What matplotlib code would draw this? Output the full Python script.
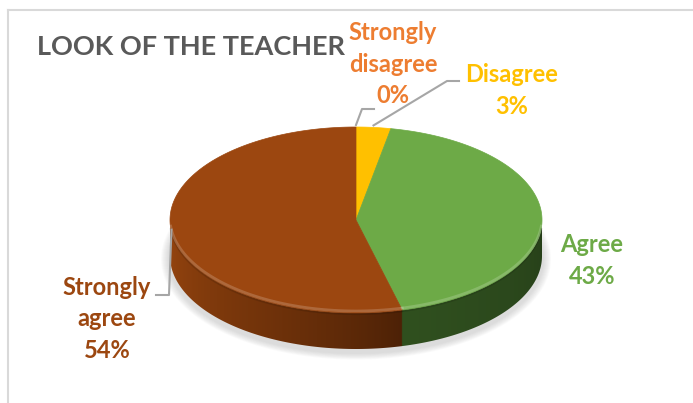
import numpy as np
import matplotlib
matplotlib.use("Agg")
import matplotlib.pyplot as plt
from matplotlib.colors import to_rgb
from matplotlib.patches import Polygon

plt.rcParams['font.family'] = ['Lato', 'DejaVu Sans']

# data
title = "LOOK OF THE TEACHER"
names = ["Strongly\ndisagree", "Disagree", "Agree", "Strongly\nagree"]
values = [0, 3, 43, 54]
top_colors = ["#ED7D31", "#FFC000", "#6DAA47", "#9C4710"]
text_colors = ["#ED7D31", "#FFC000", "#6DAA47", "#9C4710"]
side_dark = ["#8A4516", "#A07800", "#263F19", "#4C2106"]
side_light = ["#B35A1F", "#C99700", "#30501F", "#97450F"]

# layout (pixels)
cx, cy, a, b, depth = 356, 220, 186, 93, 36
label_pos = [(393, 40), (512, 82), (592, 252), (107, 295)]
elbows = [[(362, 109), (374, 109)], [(447, 81), (459, 81)], None, [(169, 295), (156, 295)]]

fig = plt.figure(figsize=(6.93, 4.03), dpi=100)
ax = fig.add_axes([0, 0, 1, 1])
ax.set_xlim(0, 693)
ax.set_ylim(403, 0)
ax.axis("off")

# chart frame
ax.plot([8, 8], [10, 403], color="#D9D9D9", lw=1.5)
ax.plot([8, 693], [10, 10], color="#D9D9D9", lw=1.5)


def pt(theta, dy=0.0):
    t = np.radians(theta)
    return cx + a * np.sin(t), cy - b * np.cos(t) + dy


def mix(c1, c2, t):
    c1, c2 = np.array(to_rgb(c1)), np.array(to_rgb(c2))
    return c1 + (c2 - c1) * t


# soft shadow
for k in range(8):
    th = np.linspace(0, 360, 200)
    xs = cx + (a + 2 + k) * np.sin(np.radians(th))
    ys = cy + depth + 3 - (b + 2 + k * 0.8) * np.cos(np.radians(th))
    ax.fill(xs, ys, color="#808080", alpha=0.035, lw=0, zorder=1)

total = float(sum(values))
bounds = np.concatenate([[0], np.cumsum(values)]) / total * 360.0

# side of the disc: one gradient image clipped to the front half
ncol = 800
xcol = np.linspace(cx - a, cx + a, ncol)
theta_col = 180 - np.degrees(np.arcsin(np.clip((xcol - cx) / a, -1, 1)))
img = np.zeros((2, ncol, 3))
for i in range(len(values)):
    t0, t1 = max(bounds[i], 90), min(bounds[i + 1], 270)
    if t1 <= t0:
        continue
    sel = (theta_col >= t0) & (theta_col <= t1)
    f = (theta_col[sel] - t0) / (t1 - t0)
    for j, fj in zip(np.where(sel)[0], f):
        img[:, j, :] = mix(side_dark[i], side_light[i], fj ** 0.8)
th = np.linspace(90, 270, 300)
xt, yt = pt(th)
xb, yb = pt(th[::-1], depth)
side = Polygon(np.c_[np.r_[xt, xb], np.r_[yt, yb]], closed=True, fc="none", ec="none")
ax.add_patch(side)
im = ax.imshow(img, extent=[cx - a, cx + a, cy + b + depth + 2, cy - 2],
               aspect="auto", interpolation="bilinear", zorder=2)
im.set_clip_path(side)
ax.set_xlim(0, 693)
ax.set_ylim(403, 0)

# top faces
for i in range(len(values)):
    t0, t1 = bounds[i], bounds[i + 1]
    if t1 - t0 <= 0:
        continue
    th = np.linspace(t0, t1, max(3, int(t1 - t0) * 2))
    xs, ys = pt(th)
    ax.fill(np.r_[cx, xs], np.r_[cy, ys], color=top_colors[i], lw=0.5,
            ec=top_colors[i], zorder=3)

# bevel highlight along the front rim
for i in range(len(values)):
    t0, t1 = max(bounds[i], 95), min(bounds[i + 1], 265)
    if t1 <= t0:
        continue
    th = np.linspace(t0, t1, 100)
    xs, ys = pt(th, -2)
    ax.plot(xs, ys, color="white", alpha=0.18, lw=2, zorder=4)
    xs, ys = pt(th, 1)
    ax.plot(xs, ys, color="black", alpha=0.12, lw=1.5, zorder=4)

# labels and leader lines
for i in range(len(values)):
    mid = (bounds[i] + bounds[i + 1]) / 2
    if elbows[i] is not None:
        x0, y0 = pt(mid)
        xs = [x0] + [p[0] for p in elbows[i]]
        ys = [y0 - 2] + [p[1] for p in elbows[i]]
        ax.plot(xs, ys, color="#A6A6A6", lw=1.5, zorder=5)
    lines = names[i].split("\n") + [f"{values[i]}%"]
    lx, ly = label_pos[i]
    for j, line in enumerate(lines):
        ax.text(lx, ly + j * 31.5, line, ha="center", va="baseline",
                fontsize=17, fontweight="bold", color=text_colors[i], zorder=6)

ax.text(37, 55, title, ha="left", va="baseline", fontsize=19.5,
        fontweight="bold", color="#595959")

fig.savefig("out.png", dpi=100)
